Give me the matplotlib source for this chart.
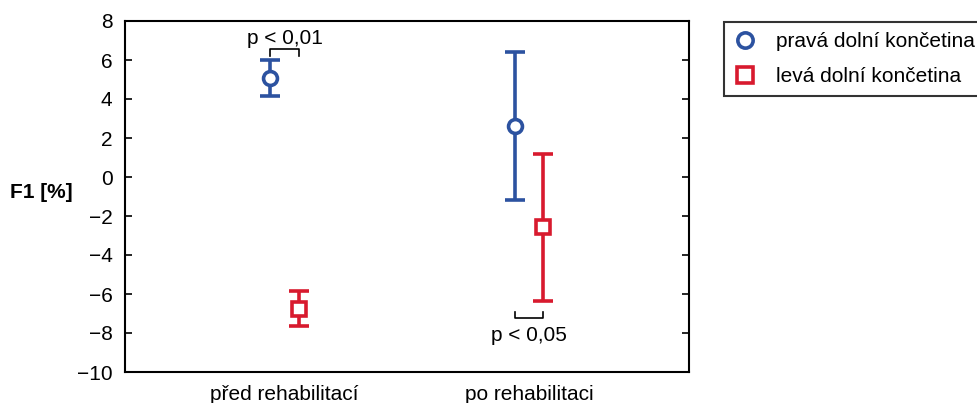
import matplotlib.pyplot as plt
import numpy as np

plt.rcParams['font.family'] = ['Liberation Sans', 'DejaVu Sans']

groups = ['před rehabilitací', 'po rehabilitaci']
series = ['pravá dolní končetina', 'levá dolní končetina']
# mean, lower, upper
prava_mean = [5.1, 2.6]
prava_low = [4.15, -1.2]
prava_high = [6.0, 6.4]
leva_mean = [-6.75, -2.55]
leva_low = [-7.65, -6.35]
leva_high = [-5.85, 1.2]
p_labels = ['p < 0,01', 'p < 0,05']

blue = '#2c52a0'
red = '#d81a2e'

fig = plt.figure(figsize=(9.77, 4.03), dpi=100)
ax = fig.add_axes([125 / 977, 1 - 372 / 403, 564 / 977, 351 / 403])

x = np.arange(len(groups))
off = 0.059

def draw(xpos, mean, low, high, color, marker, label):
    mean = np.array(mean)
    yerr = [mean - np.array(low), np.array(high) - mean]
    ax.errorbar(xpos, mean, yerr=yerr, fmt=marker, color=color, ecolor=color,
                elinewidth=2.6, capsize=7, capthick=2.6, markersize=10,
                markeredgewidth=2.6, markerfacecolor='white', label=label)

draw(x - off, prava_mean, prava_low, prava_high, blue, 'o', series[0])
draw(x + off, leva_mean, leva_low, leva_high, red, 's', series[1])

# significance brackets
ax.plot([x[0] - off, x[0] - off, x[0] + off, x[0] + off], [6.2, 6.55, 6.55, 6.2],
        color='black', lw=1.2)
ax.text(x[0], 7.1, p_labels[0], ha='center', va='center', fontsize=15)
ax.plot([x[1] - off, x[1] - off, x[1] + off, x[1] + off], [-6.9, -7.25, -7.25, -6.9],
        color='black', lw=1.2)
ax.text(x[1], -8.15, p_labels[1], ha='center', va='center', fontsize=15)

ax.set_xlim(-0.652, 1.654)
ax.set_ylim(-10, 8)
ax.set_yticks(np.arange(-10, 9, 2))
ax.set_xticks(x)
ax.set_xticklabels(groups, fontsize=15)
ax.tick_params(axis='x', length=0, pad=9)
ax.tick_params(axis='y', direction='in', length=5, width=1.2, right=True,
               labelsize=15, pad=9)
for s in ax.spines.values():
    s.set_linewidth(1.5)

fig.text(10 / 977, 1 - 193 / 403, 'F1 [%]', fontsize=15, fontweight='bold',
         ha='left', va='center')

h, l = ax.get_legend_handles_labels()
h = [hh[0] for hh in h]
leg = fig.legend(h, l, loc='upper left', bbox_to_anchor=(724 / 977, 1 - 22 / 403),
                 fontsize=15, frameon=True, fancybox=False, edgecolor='black',
                 handlelength=1.0, handletextpad=1.0, borderpad=0.5,
                 labelspacing=0.75, borderaxespad=0, markerscale=1.1)
leg.get_frame().set_linewidth(1.5)

fig.savefig('out.png', dpi=100)
